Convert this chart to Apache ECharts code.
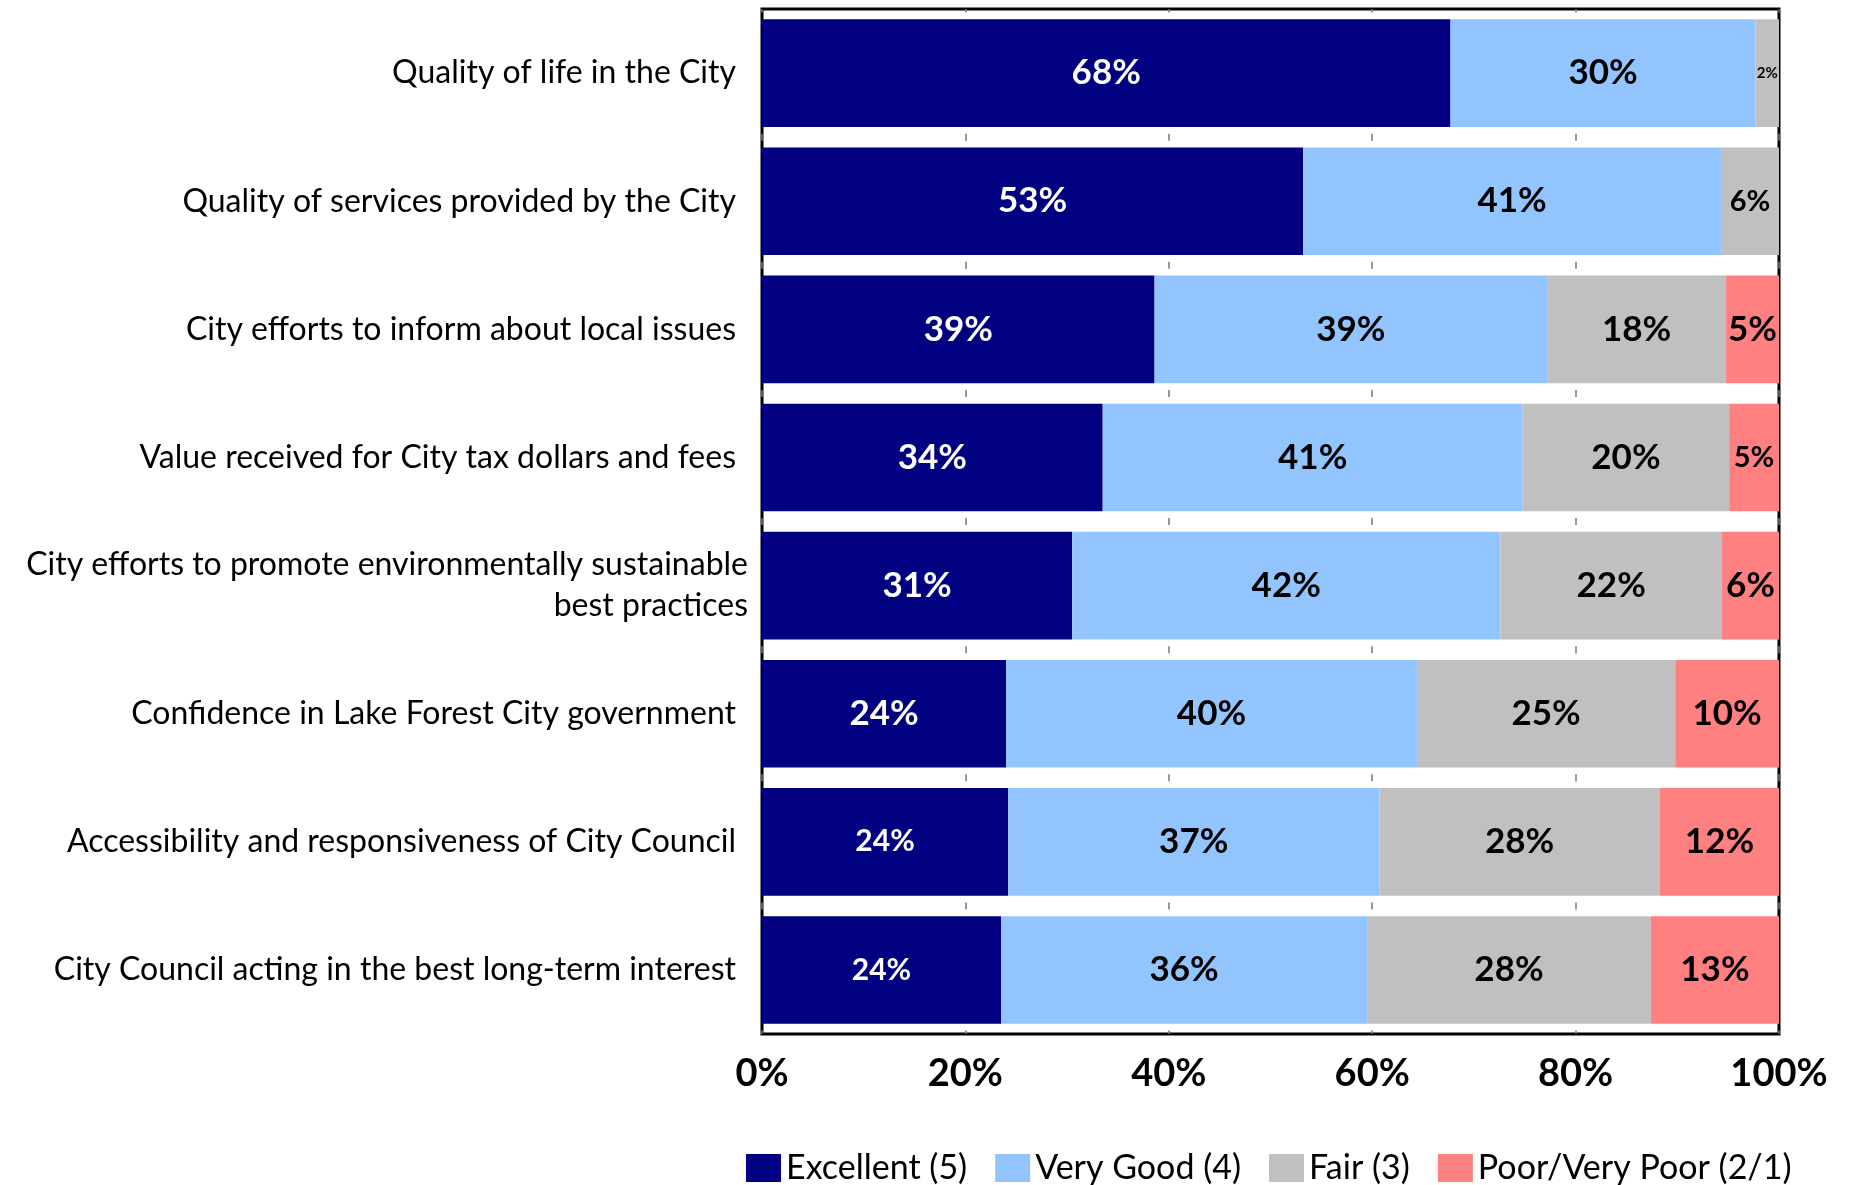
<!DOCTYPE html>
<html>
<head>
<meta charset="utf-8">
<title>City ratings</title>
<script src="https://cdn.jsdelivr.net/npm/echarts@6/dist/echarts.min.js"></script>
<style>
  html, body { margin: 0; padding: 0; background: #fff; }
  #chart { width: 1850px; height: 1185px; }
</style>
</head>
<body>
<div id="chart"></div>
<script>
// data (percent of respondents)
const categories = [
  'Quality of life in the City',
  'Quality of services provided by the City',
  'City efforts to inform about local issues',
  'Value received for City tax dollars and fees',
  'City efforts to promote environmentally sustainable\nbest practices',
  'Confidence in Lake Forest City government',
  'Accessibility and responsiveness of City Council',
  'City Council acting in the best long-term interest'
];
const seriesNames = ['Excellent (5)', 'Very Good (4)', 'Fair (3)', 'Poor/Very Poor (2/1)'];
const excellent = [67.7, 53.2, 38.6, 33.5, 30.5, 24.0, 24.2, 23.5];
const veryGood = [30.0, 41.1, 38.6, 41.3, 42.1, 40.4, 36.5, 36.0];
const fair = [2.3, 5.7, 17.6, 20.3, 21.8, 25.4, 27.6, 27.9];
const poor = [null, null, 5.2, 4.9, 5.6, 10.2, 11.7, 12.6];
const xTicks = [0, 20, 40, 60, 80, 100];

const colors = ['#000080', '#92C5FE', '#C0C0C0', '#FF8080'];
const labelColors = ['#fff', '#000', '#000', '#000'];
const FONT = 'Lato, "Open Sans", sans-serif';

// some labels in the original are drawn smaller (series index - row index)
const labelSize = { '2-0': 15, '2-1': 29, '3-3': 29, '0-6': 30, '0-7': 30 };

const chart = echarts.init(document.getElementById('chart'));

const series = [excellent, veryGood, fair, poor].map((vals, s) => ({
  name: seriesNames[s],
  type: 'bar',
  stack: 'total',
  barCategoryGap: '16%',
  itemStyle: { color: colors[s] },
  label: {
    show: true,
    position: 'inside',
    color: labelColors[s],
    fontFamily: FONT,
    fontWeight: 'bold',
    fontSize: 35,
    formatter: p => (p.value ? Math.round(p.value) + '%' : '')
  },
  data: vals.map((v, i) => {
    const sz = labelSize[s + '-' + i];
    return sz ? { value: v, label: { fontSize: sz } } : v;
  })
}));

// the wrapped label sits a little lower and further right in the original
const yData = categories.map(c =>
  c.indexOf('\n') >= 0 ? { value: c, textStyle: { padding: [0, -12, -14, 0] } } : c
);

chart.setOption({
  animation: false,
  grid: {
    left: 762,
    right: 71,
    top: 9,
    bottom: 151,
    show: true,
    borderColor: '#000',
    borderWidth: 3,
    backgroundColor: 'transparent'
  },
  legend: {
    data: seriesNames,
    left: 741,
    top: 1146,
    icon: 'rect',
    itemWidth: 35,
    itemHeight: 28,
    itemGap: 28,
    textStyle: { fontFamily: FONT, fontSize: 34, color: '#000' }
  },
  xAxis: {
    type: 'value',
    min: xTicks[0],
    max: xTicks[xTicks.length - 1],
    interval: 20,
    axisLine: { show: false },
    axisTick: { show: false },
    axisLabel: {
      margin: 21,
      color: '#000',
      fontFamily: FONT,
      fontWeight: 'bold',
      fontSize: 38,
      formatter: '{value}%'
    },
    splitLine: {
      show: true,
      lineStyle: { color: '#777', width: 1.5, type: [7, 121.125], dashOffset: 3.5 }
    }
  },
  yAxis: {
    type: 'category',
    inverse: true,
    data: yData,
    axisLine: { show: false },
    axisTick: { show: false },
    axisLabel: {
      margin: 26,
      color: '#000',
      fontFamily: FONT,
      fontSize: 32,
      lineHeight: 41,
      align: 'right'
    }
  },
  series: series
});

window.addEventListener('resize', () => chart.resize());
</script>
</body>
</html>
